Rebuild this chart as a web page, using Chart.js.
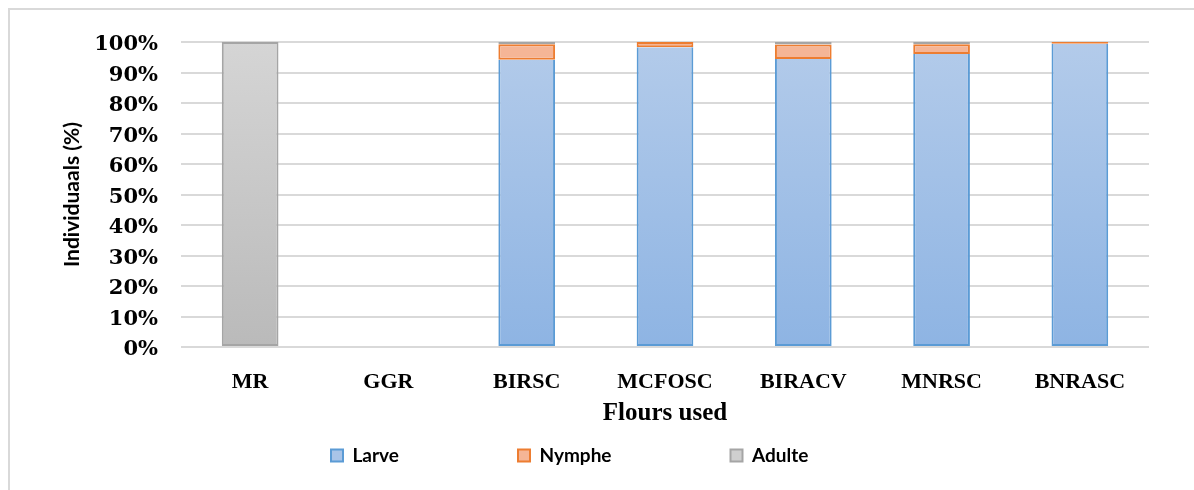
<!DOCTYPE html>
<html>
<head>
<meta charset="utf-8">
<script src="https://cdn.jsdelivr.net/npm/chart.js@4.4.1/dist/chart.umd.min.js"></script>
<style>
html, body { margin: 0; padding: 0; background: #fff; }
#caja { width: 1194px; height: 490px; position: relative; }
</style>
</head>
<body>
<div id="caja"><canvas id="grafica"></canvas></div>
<script>
// datos
var harinas = ["MR", "GGR", "BIRSC", "MCFOSC", "BIRACV", "MNRSC", "BNRASC"];
var larve = [0, 0, 94.2, 98.3, 94.4, 96.1, 99.4];
var nymphe = [0, 0, 5.1, 1.7, 4.8, 3.2, 0.6];
var adulte = [100, 0, 0.7, 0, 0.8, 0.7, 0];
var ticksY = [0, 10, 20, 30, 40, 50, 60, 70, 80, 90, 100];

function degradado(arriba, abajo) {
  return function (ctx) {
    var area = ctx.chart.chartArea;
    if (!area) return abajo;
    var g = ctx.chart.ctx.createLinearGradient(0, area.top, 0, area.bottom);
    g.addColorStop(0, arriba);
    g.addColorStop(1, abajo);
    return g;
  };
}

// marco gris de Excel
const marco = {
  id: "marco",
  beforeDraw(chart) {
    const c = chart.ctx;
    c.save();
    c.fillStyle = "#fff";
    c.fillRect(0, 0, chart.width, chart.height);
    c.strokeStyle = "#d9d9d9";
    c.lineWidth = 2;
    c.beginPath();
    c.moveTo(9, chart.height);
    c.lineTo(9, 9);
    c.lineTo(chart.width, 9);
    c.stroke();
    c.restore();
  },
};

// mover la leyenda donde esta en la imagen
const leyenda = {
  id: "leyenda",
  afterLayout(chart) {
    const lg = chart.legend;
    if (!lg || !lg.lineWidths) return;
    const pad = lg.options.labels.padding;
    const inicio = (lg.left + pad + lg.right - lg.lineWidths[0]) / 2;
    const dx = 331 - inicio;
    lg.left += dx;
    lg.right += dx;
    lg.top = 446 - pad;
    lg.bottom = chart.height;
  },
};

const grafica = document.querySelector("#grafica");
new Chart(grafica, {
  type: "bar",
  data: {
    labels: harinas,
    datasets: [
      {
        label: "Larve",
        data: larve,
        backgroundColor: degradado("#b3cbea", "#8eb4e3"),
        borderColor: "#5b9bd5",
        borderWidth: 2,
        borderSkipped: "end",
        colorLeyenda: "#a9c4e8",
      },
      {
        label: "Nymphe",
        data: nymphe,
        backgroundColor: "#f5b596",
        borderColor: "#ed7d31",
        borderWidth: 2,
        borderSkipped: false,
        colorLeyenda: "#f5b596",
      },
      {
        label: "Adulte",
        data: adulte,
        backgroundColor: degradado("#d5d5d5", "#bababa"),
        borderColor: "#a5a5a5",
        borderWidth: 2,
        borderSkipped: false,
        colorLeyenda: "#cfcfcf",
      },
    ],
  },
  options: {
    responsive: true,
    maintainAspectRatio: false,
    animation: false,
    layout: { padding: { top: 42, left: 60, right: 45, bottom: 16 } },
    datasets: { bar: { categoryPercentage: 1, barPercentage: 0.41 } },
    scales: {
      x: {
        stacked: true,
        grid: { display: false },
        border: { display: false },
        afterFit: (eje) => {
          eje.height = 82;
        },
        ticks: {
          color: "#000",
          padding: 14,
          font: { family: "Liberation Serif", weight: "bold", size: 22 },
        },
        title: {
          display: true,
          text: "Flours used",
          color: "#000",
          padding: { top: 0, bottom: 0 },
          font: { family: "Liberation Serif", weight: "bold", size: 25 },
        },
      },
      y: {
        stacked: true,
        min: 0,
        max: 100,
        afterBuildTicks: (eje) => {
          eje.ticks = ticksY.map((v) => ({ value: v }));
        },
        afterFit: (eje) => {
          eje.width = 121;
        },
        grid: { color: "#d9d9d9", lineWidth: 2, drawTicks: false },
        border: { display: false },
        ticks: {
          color: "#000",
          padding: 23,
          labelOffset: 3,
          font: { family: "DejaVu Serif", weight: "bold", size: 21 },
          callback: (v) => v + "%",
        },
        title: {
          display: true,
          text: "Individuaals (%)",
          color: "#000",
          padding: { top: 0, bottom: 0 },
          font: { family: "Lato", weight: "bold", size: 21 },
        },
      },
    },
    plugins: {
      tooltip: { enabled: false },
      legend: {
        position: "bottom",
        maxHeight: 45,
        labels: {
          color: "#000",
          padding: 119,
          boxWidth: 12,
          boxHeight: 12,
          font: { family: "Lato", weight: "bold", size: 19 },
          generateLabels: (chart) =>
            chart.data.datasets.map((ds, i) => ({
              text: ds.label,
              fillStyle: ds.colorLeyenda,
              strokeStyle: ds.borderColor,
              lineWidth: 2,
              hidden: false,
              datasetIndex: i,
            })),
        },
      },
    },
  },
  plugins: [marco, leyenda],
});
</script>
</body>
</html>
